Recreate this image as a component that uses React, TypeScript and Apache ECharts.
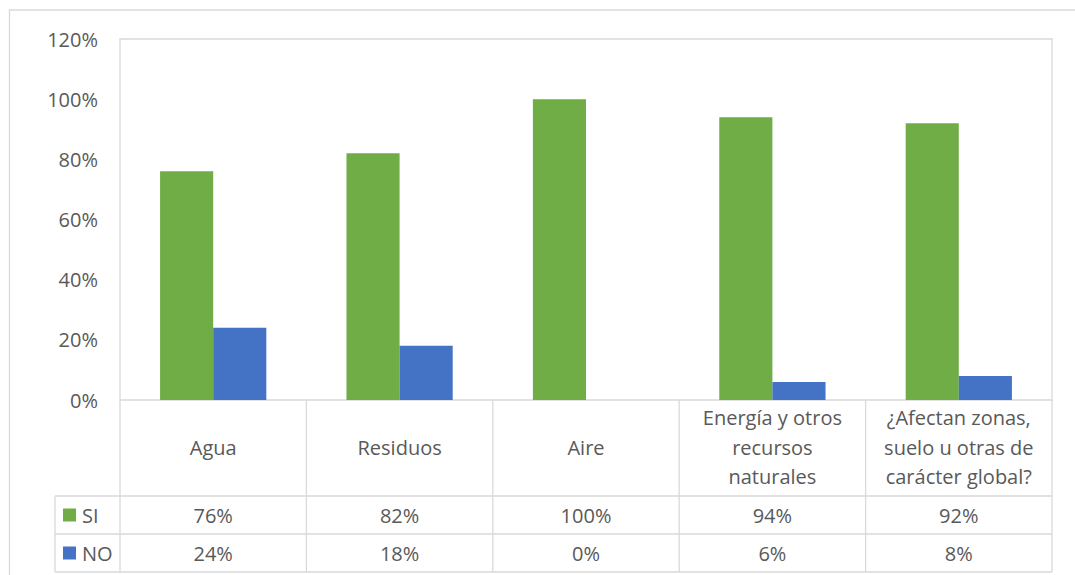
import { useEffect, useRef } from "react";
import * as echarts from "echarts";

// Categories, as shown in the data table (line breaks as wrapped in the cells)
const categories = [
  "Agua",
  "Residuos",
  "Aire",
  "Energía y otros\nrecursos\nnaturales",
  "¿Afectan zonas,\nsuelo u otras de\ncarácter global?",
];
const seriesNames = ["SI", "NO"];
const siValues = [76, 82, 100, 94, 92];
const noValues = [24, 18, 0, 6, 8];
const seriesColors = ["#70AD47", "#4472C4"];
const yMin = 0;
const yMax = 120;
const yInterval = 20;

const W = 1075;
const H = 575;
const PLOT_L = 120;
const PLOT_R = 1052;
const PLOT_T = 39;
const PLOT_B = 400;
const ROW_CAT_B = 496;
const ROW_SI_B = 534;
const ROW_NO_B = 572;
const TABLE_L = 55;

const TEXT = "#595959";
const LINE = "#D9D9D9";
const FONT = "'Open Sans', sans-serif";

export default function App() {
  const ref = useRef<HTMLDivElement>(null);

  useEffect(() => {
    if (!ref.current) return;
    const chart = echarts.init(ref.current, null, { renderer: "svg" });
    const n = categories.length;
    const cellW = (PLOT_R - PLOT_L) / n;

    const line = (x1: number, y1: number, x2: number, y2: number) => ({
      type: "line",
      silent: true,
      shape: { x1, y1, x2, y2 },
      style: { stroke: LINE, lineWidth: 1.3 },
    });
    const text = (t: string, x: number, y: number, align = "center") => ({
      type: "text",
      silent: true,
      style: {
        text: t,
        x,
        y,
        fill: TEXT,
        fontSize: 20,
        fontFamily: FONT,
        align,
        verticalAlign: "middle",
        lineHeight: 29.5,
      },
    });

    const graphics: any[] = [];
    // outer chart frame
    graphics.push({
      type: "rect",
      silent: true,
      shape: { x: 9.5, y: 10, width: W + 20, height: H + 20 },
      style: { fill: "none", stroke: LINE, lineWidth: 1.3 },
    });
    // data table grid
    graphics.push(line(PLOT_L, PLOT_B, PLOT_L, ROW_NO_B));
    for (let i = 1; i <= n; i++) {
      const x = PLOT_L + i * cellW;
      graphics.push(line(x, PLOT_B, x, ROW_NO_B));
    }
    graphics.push(line(TABLE_L, ROW_CAT_B, PLOT_R, ROW_CAT_B));
    graphics.push(line(TABLE_L, ROW_SI_B, PLOT_R, ROW_SI_B));
    graphics.push(line(TABLE_L, ROW_NO_B, PLOT_R, ROW_NO_B));
    graphics.push(line(TABLE_L, ROW_CAT_B, TABLE_L, ROW_NO_B));

    // category header cells
    categories.forEach((c, i) => {
      graphics.push(text(c, PLOT_L + (i + 0.5) * cellW, (PLOT_B + ROW_CAT_B) / 2 - 1));
    });

    // series rows: legend key, name and values
    const rows = [
      { vals: siValues, top: ROW_CAT_B, bottom: ROW_SI_B },
      { vals: noValues, top: ROW_SI_B, bottom: ROW_NO_B },
    ];
    rows.forEach((r, s) => {
      const cy = (r.top + r.bottom) / 2;
      graphics.push({
        type: "rect",
        silent: true,
        shape: { x: 63, y: cy - 6.5, width: 13, height: 13 },
        style: { fill: seriesColors[s] },
      });
      graphics.push(text(seriesNames[s], 82, cy, "left"));
      r.vals.forEach((v, i) => {
        graphics.push(text(v + "%", PLOT_L + (i + 0.5) * cellW, cy));
      });
    });

    chart.setOption({
      animation: false,
      backgroundColor: "#ffffff",
      textStyle: { fontFamily: FONT },
      grid: {
        left: PLOT_L,
        right: W - PLOT_R,
        top: PLOT_T,
        bottom: H - PLOT_B,
        show: true,
        borderColor: LINE,
        borderWidth: 1.3,
        containLabel: false,
      },
      xAxis: {
        type: "category",
        data: categories,
        axisLine: { show: false },
        axisTick: { show: false },
        axisLabel: { show: false },
        splitLine: { show: false },
      },
      yAxis: {
        type: "value",
        min: yMin,
        max: yMax,
        interval: yInterval,
        axisLine: { show: false },
        axisTick: { show: false },
        splitLine: { show: false },
        axisLabel: {
          formatter: "{value}%",
          color: TEXT,
          fontSize: 20,
          fontFamily: FONT,
          margin: 22,
        },
      },
      series: [
        {
          name: seriesNames[0],
          type: "bar",
          data: siValues,
          itemStyle: { color: seriesColors[0] },
          barGap: "0%",
          barCategoryGap: "43%",
        },
        {
          name: seriesNames[1],
          type: "bar",
          data: noValues,
          itemStyle: { color: seriesColors[1] },
          barGap: "0%",
          barCategoryGap: "43%",
        },
      ],
      graphic: graphics,
    });
    return () => chart.dispose();
  }, []);

  return (
    <div
      ref={ref}
      style={{ position: "fixed", left: 0, top: 0, width: W, height: H }}
    />
  );
}
